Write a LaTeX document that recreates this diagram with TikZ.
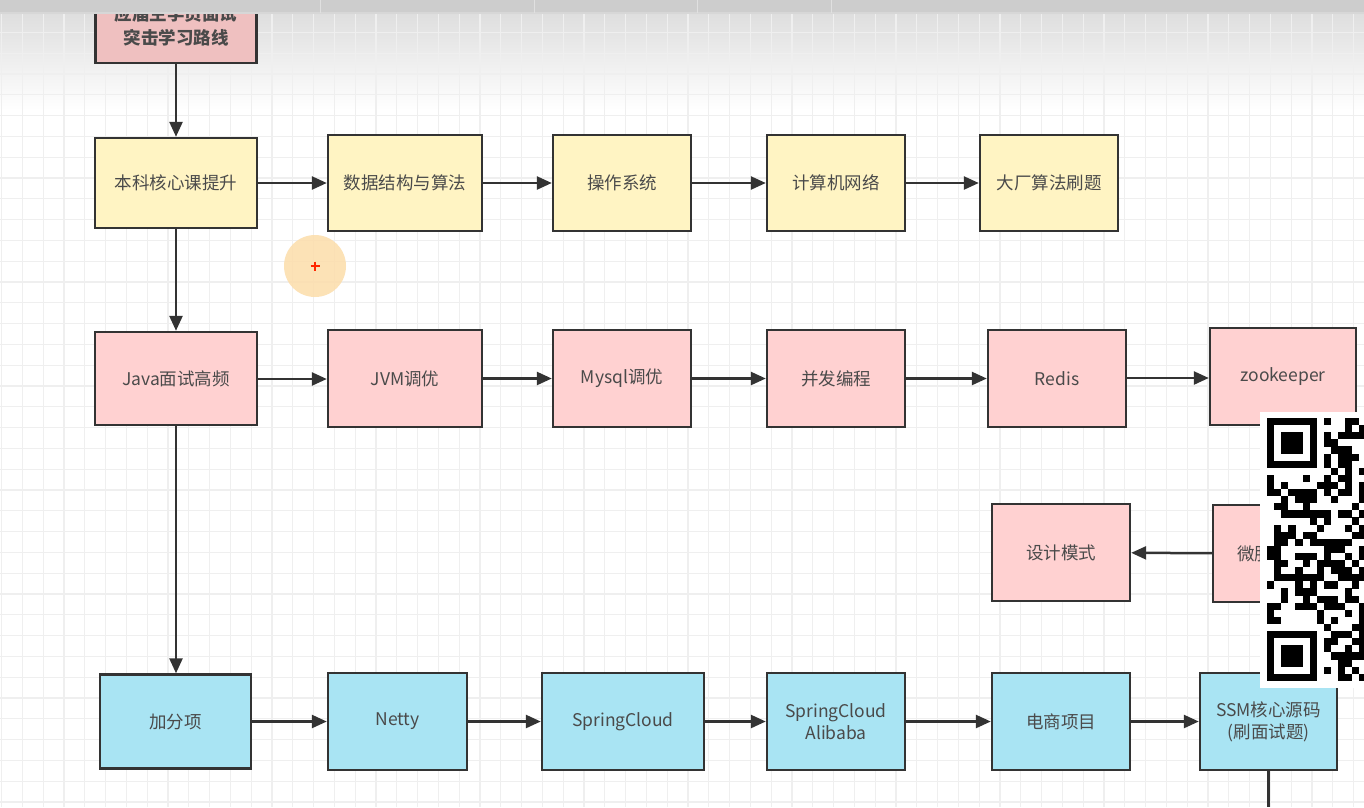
\documentclass[tikz,border=0pt]{standalone}
\usepackage{fontspec}
\setmainfont{Noto Sans CJK SC}
\usetikzlibrary{arrows.meta}
\definecolor{ylw}{HTML}{FFF4C3}
\definecolor{pnk}{HTML}{FFD1D1}
\definecolor{tpnk}{HTML}{EFC0C0}
\definecolor{blu}{HTML}{A9E4F3}
\definecolor{edge}{HTML}{333333}
\definecolor{txt}{HTML}{4A4A4A}
\definecolor{gridc}{HTML}{EFEFEF}
\definecolor{barc}{HTML}{CDCDCD}
\definecolor{curs}{HTML}{FCDDAA}
\tikzset{
  box/.style={draw=edge, line width=2.4pt, text=txt, font=\fontsize{17.5}{22}\selectfont, align=center, inner sep=0pt},
  ybox/.style={box, fill=ylw, minimum height=93pt},
  pbox/.style={box, fill=pnk, minimum height=97pt},
  bbox/.style={box, fill=blu, minimum height=97pt},
  conn/.style={draw=edge, line width=2.5pt, -{Triangle[length=15pt,width=13pt]}},
  plainconn/.style={draw=edge, line width=2.5pt},
  gridline/.style={draw=gridc, line width=1.2pt}
}
\begin{document}
\begin{tikzpicture}[x=1pt,y=-1pt]
\useasboundingbox (0,0) rectangle (1364,807);
\clip (0,0) rectangle (1364,807);
% background
\fill[white] (0,0) rectangle (1364,807);
\shade[top color=black!13, bottom color=white] (0,13) rectangle (1364,110);
\foreach \i in {0,...,66} { \draw[gridline] (1.5+\i*20.8,13) -- (1.5+\i*20.8,807); }
\foreach \j in {0,...,38} { \draw[gridline] (0,11.5+\j*20.8) -- (1364,11.5+\j*20.8); }

% nodes
\node[box, fill=tpnk, minimum width=161pt, minimum height=75pt, font=\bfseries\fontsize{17.5}{24}\selectfont] (top) at (176,25.5) {应届生学员面试\\突击学习路线};

\node[ybox, minimum width=162pt, minimum height=90pt] (a0) at (176,183) {本科核心课提升};
\node[ybox, minimum width=154pt, minimum height=96pt] (a1) at (405,183) {数据结构与算法};
\node[ybox, minimum width=138pt, minimum height=96pt] (a2) at (622,183) {操作系统};
\node[ybox, minimum width=138pt, minimum height=96pt] (a3) at (836,183) {计算机网络};
\node[ybox, minimum width=138pt, minimum height=96pt] (a4) at (1049,183) {大厂算法刷题};

\node[pbox, minimum width=162pt, minimum height=93pt] (b0) at (176,378.5) {Java面试高频};
\node[pbox, minimum width=154pt] (b1) at (405,378.5) {JVM调优};
\node[pbox, minimum width=138pt] (b2) at (622,378.5) {Mysql调优};
\node[pbox, minimum width=138pt] (b3) at (836,378.5) {并发编程};
\node[pbox, minimum width=138pt] (b4) at (1057,378.5) {Redis};
\node[pbox, minimum width=146pt] (b5) at (1283,376.5) {zookeeper};

\node[pbox, minimum width=138pt] (c0) at (1061,552.5) {设计模式};
\node[pbox, minimum width=146pt] (c1) at (1286,553.5) {};
\node[box, draw=none, anchor=west] (c1t) at (1236,553.5) {微服务};

\node[bbox, minimum width=151pt, minimum height=94pt] (d0) at (175.5,721.5) {加分项};
\node[bbox, minimum width=139pt] (d1) at (397.5,721.5) {Netty};
\node[bbox, minimum width=162pt] (d2) at (623,721.5) {SpringCloud};
\node[bbox, minimum width=138pt] (d3) at (836,721.5) {SpringCloud\\Alibaba};
\node[bbox, minimum width=138pt] (d4) at (1061,721.5) {电商项目};
\node[bbox, minimum width=137pt] (d5) at (1268.5,721.5) {SSM核心源码\\(刷面试题)};
\coordinate (bend) at (1268.5,807);

% connectors
\draw[conn] (top) -- (a0);
\draw[conn] (a0) -- (b0);
\draw[conn] (b0.south) -- (d0.north -| b0.south);
\draw[conn] (a0) -- (a1);
\draw[conn] (a1) -- (a2);
\draw[conn] (a2) -- (a3);
\draw[conn] (a3) -- (a4);
\draw[conn] (b0.east |- 0,379) -- (b1.west |- 0,379);
\draw[conn] (b1) -- (b2);
\draw[conn] (b2) -- (b3);
\draw[conn] (b3) -- (b4);
\draw[conn] (b4.east |- 0,378) -- (b5.west |- 0,378);
\draw[conn] (c1) -- (c0);
\draw[conn] (d0) -- (d1);
\draw[conn] (d1) -- (d2);
\draw[conn] (d2) -- (d3);
\draw[conn] (d3) -- (d4);
\draw[conn] (d4) -- (d5);
\draw[plainconn] (d5) -- (bend);

% top bar
\fill[barc] (0,0) rectangle (1364,13);
\draw[barc!80!white, line width=1.2pt] (0,13) -- (1364,13);
\foreach \sx in {320,534,697,831} { \draw[white!88!black, line width=1pt] (\sx,0) -- (\sx,13); }

% cursor highlight
\fill[curs, opacity=0.85] (315,266) circle (31);
\draw[red!70!orange, line width=1.5pt] (310.5,266) -- (319.5,266) (315,261.5) -- (315,270.5);

% QR overlay
\fill[white] (1260,412) rectangle (1364,688);
\pgfmathsetseed{11}
\foreach \r in {0,...,36}{
  \foreach \c in {0,...,13}{
    \pgfmathtruncatemacro{\inf}{and(\c<8, or(\r<8, \r>28)) ? 1 : 0}
    \pgfmathtruncatemacro{\bit}{rnd<0.5 ? 1 : 0}
    \ifnum\inf=0 \ifnum\bit=1 \fill[black] (1267+\c*7.1,418+\r*7.1) rectangle ++(7.2,7.2); \fi\fi
  }
}
\foreach \fy in {418,631}{
  \fill[black] (1267,\fy) rectangle ++(49.7,49.7);
  \fill[white] (1274.1,\fy+7.1) rectangle ++(35.5,35.5);
  \fill[black] (1281.2,\fy+14.2) rectangle ++(21.3,21.3);
}
\end{tikzpicture}
\end{document}
